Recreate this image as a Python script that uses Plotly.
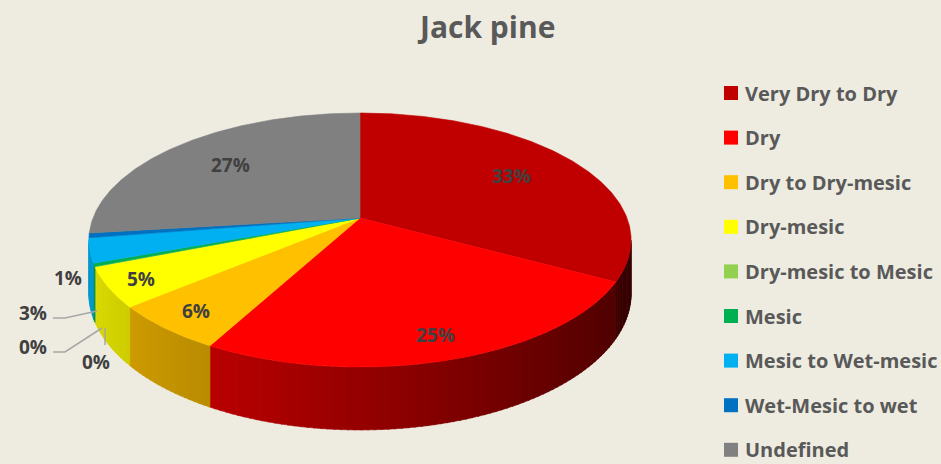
import numpy as np
import plotly.graph_objects as go

# ---- data -------------------------------------------------------------
categories = ["Very Dry to Dry", "Dry", "Dry to Dry-mesic", "Dry-mesic",
              "Dry-mesic to Mesic", "Mesic", "Mesic to Wet-mesic",
              "Wet-Mesic to wet", "Undefined"]
shares = [32.9, 25.0, 6.0, 5.0, 0.1, 0.4, 3.1, 0.6, 26.9]
colors = ["#C00000", "#FF0000", "#FFC000", "#FFFF00", "#92D050",
          "#00B050", "#00B0F0", "#0070C0", "#808080"]
title_text = "Jack pine"

# ---- canvas / projection of the tilted 3-D disc (pixel units) ----------
W, H = 941, 464
CX, CY = 360, 218          # projected centre of the pie
AX, BY = 267, 123.2        # horizontal / vertical radius factors
PERSP = 0.1733             # perspective strength
DEPTH = 52                 # thickness of the pie
BG = "#EEECE1"
TEXT_DARK = "#404040"
TEXT_MID = "#595959"
FONT = "Open Sans"


def project(theta, r=1.0, z=0.0):
    """theta: clockwise angle from 12 o'clock (radians); z=1 is the bottom face."""
    u = r * np.sin(theta)
    v = r * np.cos(theta)
    w = 1 + PERSP * v
    return CX + AX * u / w, CY - BY * v / w + z * DEPTH / w


def hex_rgb(h):
    h = h.lstrip("#")
    return [int(h[i:i + 2], 16) for i in (0, 2, 4)]


def shade(hexcol, f):
    r, g, b = [min(255, int(round(c * f))) for c in hex_rgb(hexcol)]
    return f"rgb({r},{g},{b})"


def light(theta):
    # side walls are lit from the left-front
    return 0.56 + 0.30 * np.cos(theta - np.radians(265))


total = float(sum(shares))
bounds = np.concatenate([[0.0], np.cumsum(shares)]) / total * 2 * np.pi
pct_text = [f"{round(s / total * 100):.0f}%" for s in shares]

fig = go.Figure()

# ---- side wall (only the front half is visible) -----------------------
vis0 = np.arccos(-PERSP)
vis1 = 2 * np.pi - vis0
step = np.radians(1.2)
for i, col in enumerate(colors):
    a0, a1 = max(bounds[i], vis0), min(bounds[i + 1], vis1)
    if a1 <= a0:
        continue
    n = max(1, int(np.ceil((a1 - a0) / step)))
    edges = np.linspace(a0, a1, n + 1)
    for t0, t1 in zip(edges[:-1], edges[1:]):
        ts = np.linspace(t0, min(t1 + 0.004, a1 + 0.004), 4)
        xt, yt = project(ts)
        xb, yb = project(ts[::-1], z=1.0)
        xs = np.concatenate([xt, xb, xt[:1]])
        ys = np.concatenate([yt, yb, yt[:1]])
        c = shade(col, light(0.5 * (t0 + t1)))
        fig.add_trace(go.Scatter(x=xs, y=ys, mode="lines", fill="toself",
                                 fillcolor=c, line=dict(color=c, width=0.6),
                                 hoverinfo="skip", showlegend=False))

# ---- top faces --------------------------------------------------------
for i, col in enumerate(colors):
    a0, a1 = bounds[i], bounds[i + 1]
    n = max(2, int(np.ceil((a1 - a0) / np.radians(0.5))))
    ts = np.linspace(a0, a1, n + 1)
    xa, ya = project(ts)
    xs = np.concatenate([[CX], xa, [CX]])
    ys = np.concatenate([[CY], ya, [CY]])
    fig.add_trace(go.Scatter(x=xs, y=ys, mode="lines", fill="toself",
                             fillcolor=col, line=dict(color=col, width=0.6),
                             hoverinfo="skip", showlegend=False))

# ---- data labels ------------------------------------------------------
inside_r = {0: 0.70, 1: 0.85, 2: 0.86, 3: 0.88, 8: 0.70}
outside_pos = {4: (96, 362), 5: (33, 347), 6: (33, 313), 7: (68, 278)}
leaders = [
    [(53, 318), (65, 318), (97, 311)],
    [(53, 352), (65, 352), (102, 328)],
    [(105, 345), (105, 328)],
]

annotations = []
shapes = []
for i, txt in enumerate(pct_text):
    if i in inside_r:
        mid = 0.5 * (bounds[i] + bounds[i + 1])
        x, y = project(mid, r=inside_r[i])
    else:
        x, y = outside_pos[i]
    annotations.append(dict(x=x, y=y, xref="x", yref="y", text=txt,
                            showarrow=False,
                            font=dict(family=FONT, size=19, color=TEXT_DARK,
                                      weight="bold")))

for pts in leaders:
    path = "M " + " L ".join(f"{px},{py}" for px, py in pts)
    shapes.append(dict(type="path", path=path, xref="x", yref="y",
                       line=dict(color="#A6A6A6", width=1.5)))

# ---- title ------------------------------------------------------------
annotations.append(dict(x=486, y=26, xref="x", yref="y", text=title_text,
                        showarrow=False,
                        font=dict(family=FONT, size=30, color=TEXT_MID,
                                  weight="bold")))

# ---- legend (swatch + label per category) -----------------------------
LEG_X, LEG_Y0, LEG_DY, SW = 724, 93, 44.6, 14
for i, (name, col) in enumerate(zip(categories, colors)):
    yc = LEG_Y0 + i * LEG_DY
    shapes.append(dict(type="rect", xref="x", yref="y",
                       x0=LEG_X, x1=LEG_X + SW, y0=yc - SW / 2, y1=yc + SW / 2,
                       fillcolor=col, line=dict(width=0)))
    annotations.append(dict(x=LEG_X + SW + 5, y=yc, xref="x", yref="y",
                            text=name, showarrow=False,
                            xanchor="left", yanchor="middle",
                            font=dict(family=FONT, size=20, color=TEXT_MID,
                                      weight="bold")))

fig.update_layout(
    width=W, height=H,
    margin=dict(l=0, r=0, t=0, b=0),
    paper_bgcolor=BG, plot_bgcolor=BG,
    xaxis=dict(range=[0, W], visible=False, fixedrange=True),
    yaxis=dict(range=[H, 0], visible=False, fixedrange=True),
    showlegend=False,
    annotations=annotations,
    shapes=shapes,
)

fig.write_html("out.html")
